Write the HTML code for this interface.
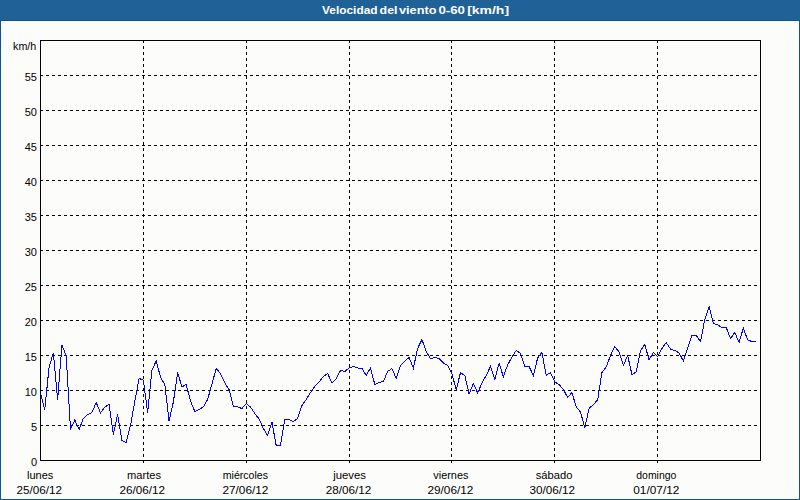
<!DOCTYPE html>
<html><head><meta charset="utf-8"><title>Velocidad del viento</title>
<style>
html,body{margin:0;padding:0;}
body{width:800px;height:500px;overflow:hidden;background:#FCFDFB;font-family:"Liberation Sans",sans-serif;}
svg{display:block;position:absolute;left:0;top:0;}
text{font-family:"Liberation Sans",sans-serif;font-size:11px;fill:#000;}
.t{font-weight:bold;fill:#fff;}
</style></head><body>
<svg width="800" height="500" viewBox="0 0 800 500">
<rect x="0" y="0" width="800" height="500" fill="#0A5691" shape-rendering="crispEdges"/>
<rect x="1" y="21" width="798" height="478" fill="#FFFFFF" shape-rendering="crispEdges"/>
<rect x="2" y="22" width="796" height="476" fill="#FCFDFB" shape-rendering="crispEdges"/>
<defs><pattern id="dz" x="0" y="0" width="4" height="4" patternUnits="userSpaceOnUse"><rect x="0" y="0" width="4" height="4" fill="#1F6195"/><rect x="1" y="1" width="1" height="1" fill="#1E65AA"/><rect x="3" y="3" width="1" height="1" fill="#1E65AA"/></pattern></defs>
<rect x="0" y="0" width="800" height="20" fill="url(#dz)" shape-rendering="crispEdges"/>
<g stroke="#000" stroke-width="1" fill="none" shape-rendering="crispEdges">
<line x1="40" y1="425.5" x2="760" y2="425.5" stroke-dasharray="3,3"/>
<line x1="40" y1="390.5" x2="760" y2="390.5" stroke-dasharray="3,3"/>
<line x1="40" y1="355.5" x2="760" y2="355.5" stroke-dasharray="3,3"/>
<line x1="40" y1="320.5" x2="760" y2="320.5" stroke-dasharray="3,3"/>
<line x1="40" y1="285.5" x2="760" y2="285.5" stroke-dasharray="3,3"/>
<line x1="40" y1="250.5" x2="760" y2="250.5" stroke-dasharray="3,3"/>
<line x1="40" y1="215.5" x2="760" y2="215.5" stroke-dasharray="3,3"/>
<line x1="40" y1="180.5" x2="760" y2="180.5" stroke-dasharray="3,3"/>
<line x1="40" y1="145.5" x2="760" y2="145.5" stroke-dasharray="3,3"/>
<line x1="40" y1="110.5" x2="760" y2="110.5" stroke-dasharray="3,3"/>
<line x1="40" y1="75.5" x2="760" y2="75.5" stroke-dasharray="3,3"/>
<line x1="143.5" y1="40" x2="143.5" y2="463" stroke-dasharray="3,3"/>
<line x1="246.5" y1="40" x2="246.5" y2="463" stroke-dasharray="3,3"/>
<line x1="349.5" y1="40" x2="349.5" y2="463" stroke-dasharray="3,3"/>
<line x1="451.5" y1="40" x2="451.5" y2="463" stroke-dasharray="3,3"/>
<line x1="554.5" y1="40" x2="554.5" y2="463" stroke-dasharray="3,3"/>
<line x1="657.5" y1="40" x2="657.5" y2="463" stroke-dasharray="3,3"/>
</g>
<polyline points="40.50,393.5 44.79,409.5 49.07,367.0 53.36,353.0 57.64,399.5 61.93,345.0 66.21,356.0 70.50,429.5 74.79,420.0 79.07,429.5 83.36,418.5 87.64,414.5 91.93,412.5 96.21,402.6 100.50,413.0 104.79,407.0 109.07,404.5 113.36,434.5 117.64,414.5 121.93,440.5 126.21,442.5 130.50,425.5 134.79,401.5 139.07,378.5 143.36,380.0 147.64,412.5 151.93,370.0 156.21,361.0 160.50,377.0 164.79,384.5 169.07,421.0 173.36,402.0 177.64,372.5 181.93,387.0 186.21,384.5 190.50,401.0 194.79,411.5 199.07,409.5 203.36,407.0 207.64,399.5 211.93,384.0 216.21,368.5 220.50,373.5 224.79,383.0 229.07,389.5 233.36,406.0 237.64,407.0 241.93,408.5 246.21,403.5 250.50,407.0 254.79,413.5 259.07,419.0 263.36,428.5 267.64,435.5 271.93,422.0 276.21,445.5 280.50,445.5 284.79,419.5 289.07,419.5 293.36,421.5 297.64,418.5 301.93,405.5 306.21,399.5 310.50,392.5 314.79,386.5 319.07,382.0 323.36,376.5 327.64,373.5 331.93,383.0 336.21,378.5 340.50,370.5 344.79,371.5 349.07,368.0 353.36,366.5 357.64,368.0 361.93,368.0 366.21,375.5 370.50,368.0 374.79,384.5 379.07,382.5 383.36,381.5 387.64,371.5 391.93,368.5 396.21,378.5 400.50,365.5 404.79,361.0 409.07,357.5 413.36,368.0 417.64,348.5 421.93,339.5 426.21,351.5 430.50,358.5 434.79,357.5 439.07,358.5 443.36,363.0 447.64,365.5 451.93,373.5 456.21,390.0 460.50,372.5 464.79,375.5 469.07,394.0 473.36,383.5 477.64,393.0 481.93,383.0 486.21,375.5 490.50,366.5 494.79,379.5 499.07,363.5 503.36,376.5 507.64,365.0 511.93,357.0 516.21,350.5 520.50,353.5 524.79,366.5 529.07,366.5 533.36,375.5 537.64,358.0 541.93,352.5 546.21,375.5 550.50,372.5 554.79,382.0 559.07,384.5 563.36,389.5 567.64,397.5 571.93,392.5 576.21,407.0 580.50,412.0 584.79,427.5 589.07,408.5 593.36,404.5 597.64,400.0 601.93,372.5 606.21,367.0 610.50,355.5 614.79,346.5 619.07,352.0 623.36,365.5 627.64,355.5 631.93,374.5 636.21,372.0 640.50,350.5 644.79,344.5 649.07,360.0 653.36,352.5 657.64,356.5 661.93,348.5 666.21,342.5 670.50,349.0 674.79,350.5 679.07,353.0 683.36,361.0 687.64,348.5 691.93,335.5 696.21,335.5 700.50,341.5 704.79,319.5 709.07,306.5 713.36,323.5 717.64,325.0 721.93,327.5 726.21,327.5 730.50,338.5 734.79,332.5 739.07,342.5 743.36,328.0 747.64,340.0 751.93,341.5 756.21,341.5" fill="none" stroke="#0000FF" stroke-width="1" shape-rendering="crispEdges"/>
<rect x="40.5" y="40.5" width="720" height="420" stroke="#000" stroke-width="1" fill="none" shape-rendering="crispEdges"/>
<text class="t" x="322.08" y="14" font-size="11" textLength="55.43" lengthAdjust="spacingAndGlyphs">Velocidad</text>
<text class="t" x="379.58" y="14" font-size="11" textLength="17.97" lengthAdjust="spacingAndGlyphs">del</text>
<text class="t" x="398.92" y="14" font-size="11" textLength="37.57" lengthAdjust="spacingAndGlyphs">viento</text>
<text class="t" x="438.45" y="14" font-size="11" textLength="26.55" lengthAdjust="spacingAndGlyphs">0-60</text>
<text class="t" x="467.20" y="14" font-size="11" textLength="41.84" lengthAdjust="spacingAndGlyphs">[km/h]</text>
<text x="13.00" y="50" font-size="12" textLength="23.31" lengthAdjust="spacingAndGlyphs">km/h</text>
<text x="27.00" y="479" font-size="12" textLength="26.29" lengthAdjust="spacingAndGlyphs">lunes</text>
<text x="16.50" y="494" font-size="11" textLength="45.59" lengthAdjust="spacingAndGlyphs">25/06/12</text>
<text x="127.00" y="479" font-size="12" textLength="34.06" lengthAdjust="spacingAndGlyphs">martes</text>
<text x="119.50" y="494" font-size="11" textLength="45.59" lengthAdjust="spacingAndGlyphs">26/06/12</text>
<text x="222.75" y="479" font-size="12" textLength="45.28" lengthAdjust="spacingAndGlyphs">miércoles</text>
<text x="222.45" y="494" font-size="11" textLength="45.94" lengthAdjust="spacingAndGlyphs">27/06/12</text>
<text x="333.25" y="479" font-size="12" textLength="32.76" lengthAdjust="spacingAndGlyphs">jueves</text>
<text x="325.75" y="494" font-size="11" textLength="45.61" lengthAdjust="spacingAndGlyphs">28/06/12</text>
<text x="433.25" y="479" font-size="12" textLength="35.26" lengthAdjust="spacingAndGlyphs">viernes</text>
<text x="427.50" y="494" font-size="11" textLength="45.84" lengthAdjust="spacingAndGlyphs">29/06/12</text>
<text x="535.75" y="479" font-size="12" textLength="36.63" lengthAdjust="spacingAndGlyphs">sábado</text>
<text x="529.45" y="494" font-size="11" textLength="45.59" lengthAdjust="spacingAndGlyphs">30/06/12</text>
<text x="636.25" y="479" font-size="12" textLength="40.10" lengthAdjust="spacingAndGlyphs">domingo</text>
<text x="633.25" y="494" font-size="11" textLength="46.10" lengthAdjust="spacingAndGlyphs">01/07/12</text>
<text x="37.00" y="466" font-size="11" text-anchor="end">0</text>
<text x="37.00" y="431" font-size="11" text-anchor="end">5</text>
<text x="37.00" y="396" font-size="11" text-anchor="end">10</text>
<text x="37.00" y="361" font-size="11" text-anchor="end">15</text>
<text x="37.00" y="326" font-size="11" text-anchor="end">20</text>
<text x="37.00" y="291" font-size="11" text-anchor="end">25</text>
<text x="37.00" y="256" font-size="11" text-anchor="end">30</text>
<text x="37.00" y="221" font-size="11" text-anchor="end">35</text>
<text x="37.00" y="186" font-size="11" text-anchor="end">40</text>
<text x="37.00" y="151" font-size="11" text-anchor="end">45</text>
<text x="37.00" y="116" font-size="11" text-anchor="end">50</text>
<text x="37.00" y="81" font-size="11" text-anchor="end">55</text>
</svg></body></html>
